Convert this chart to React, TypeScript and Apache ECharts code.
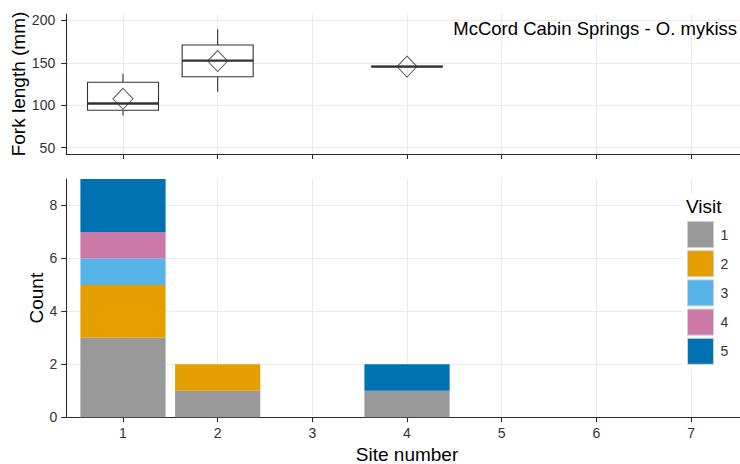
import React, { useEffect, useRef } from "react";
import * as echarts from "echarts";

// Sites along the shared x axis
const sites = [1, 2, 3, 4, 5, 6, 7];
const siteLabels = ["1", "2", "3", "4", "5", "6", "7"];

// Fish counts per site, one array per visit
const visitNames = ["1", "2", "3", "4", "5"];
const visitColors = ["#999999", "#E69F00", "#56B4E9", "#CC79A7", "#0072B2"];
const countVisit1 = [3, 1, 0, 1, 0, 0, 0];
const countVisit2 = [2, 1, 0, 0, 0, 0, 0];
const countVisit3 = [1, 0, 0, 0, 0, 0, 0];
const countVisit4 = [1, 0, 0, 0, 0, 0, 0];
const countVisit5 = [2, 0, 0, 1, 0, 0, 0];
const countsByVisit = [countVisit1, countVisit2, countVisit3, countVisit4, countVisit5];

// Fork length summaries per site (mm)
const boxSites = [1, 2, 4];
const boxLow = [88, 116, 145];
const boxQ1 = [94, 133.5, 145.25];
const boxMedian = [102, 152.5, 145.5];
const boxQ3 = [127, 171, 145.75];
const boxHigh = [137, 189.5, 146];
const meanLength = [107.5, 152, 145.5];

// Tick labels
const lengthTicks = [50, 100, 150, 200];
const countTicks = [0, 2, 4, 6, 8];

const FONT = '"Liberation Sans", Arial, Helvetica, sans-serif';
const W = 740;
const H = 464;
const X_MIN = 0.4;
const X_MAX = 7.6;
const UNIT = 94.67; // pixels per site step
const GRID_LEFT = 66.2;
const GRID_WIDTH = (X_MAX - X_MIN) * UNIT;
// Bars sit on a category band grid whose bands line up with the value axis
const BAND_LEFT = GRID_LEFT + (sites[0] - X_MIN - 0.5) * UNIT;
const BAND_WIDTH = sites.length * UNIT;

const BOTTOM_TOP = 179;
const BOTTOM_BOTTOM = H - 417.3;

const AXIS_LINE = { color: "#2b2b2b", width: 1.1 };
const GRID_LINE = { color: "#ebebeb", width: 1 };

function xAxisFor(gridIndex: number, withLabels: boolean) {
  return {
    type: "value",
    gridIndex,
    min: X_MIN,
    max: X_MAX,
    axisLine: { show: true, onZero: false, lineStyle: AXIS_LINE },
    axisTick: { show: true, length: 5, customValues: sites, lineStyle: AXIS_LINE },
    axisLabel: {
      show: withLabels,
      customValues: sites,
      margin: 9,
      fontSize: 14,
      color: "#333",
      fontFamily: FONT,
    },
    splitLine: { show: true, lineStyle: GRID_LINE },
    ...(withLabels
      ? {
          name: "Site number",
          nameLocation: "middle",
          nameGap: 26,
          nameTextStyle: { fontSize: 19, color: "#000", fontFamily: FONT },
        }
      : {}),
  };
}

function buildOption() {
  const boxData = boxSites.map((s, i) => [s, boxLow[i], boxQ1[i], boxMedian[i], boxQ3[i], boxHigh[i]]);
  const meanData = boxSites.map((s, i) => [s, meanLength[i]]);

  const barSeries = visitNames.map((name, v) => ({
    type: "bar",
    name,
    xAxisIndex: 2,
    yAxisIndex: 2,
    stack: "count",
    barWidth: "90%",
    itemStyle: { color: visitColors[v] },
    data: countsByVisit[v],
  }));

  return {
    animation: false,
    backgroundColor: "#ffffff",
    textStyle: { fontFamily: FONT },
    title: [
      {
        text: "McCord Cabin Springs - O. mykiss",
        right: 3,
        top: 19,
        padding: 0,
        textStyle: { fontSize: 18.5, fontWeight: "normal", color: "#000", fontFamily: FONT },
      },
      {
        text: "Visit",
        left: 686,
        top: 197,
        padding: 0,
        textStyle: { fontSize: 19, fontWeight: "normal", color: "#000", fontFamily: FONT },
      },
    ],
    legend: {
      orient: "vertical",
      left: 682,
      top: 194,
      padding: [27, 30, 5, 5],
      backgroundColor: "#ffffff",
      itemWidth: 26,
      itemHeight: 26,
      itemGap: 2.2,
      icon: "rect",
      data: visitNames,
      itemStyle: { borderColor: "#cfcfcf", borderWidth: 1 },
      textStyle: { fontSize: 14, color: "#333", fontFamily: FONT, padding: [0, 0, 0, 2] },
    },
    grid: [
      { left: GRID_LEFT, width: GRID_WIDTH, top: 14, height: 140, outerBoundsMode: "none" },
      { left: GRID_LEFT, width: GRID_WIDTH, top: BOTTOM_TOP, bottom: BOTTOM_BOTTOM, outerBoundsMode: "none" },
      { left: BAND_LEFT, width: BAND_WIDTH, top: BOTTOM_TOP, bottom: BOTTOM_BOTTOM, outerBoundsMode: "none" },
    ],
    xAxis: [
      xAxisFor(0, false),
      xAxisFor(1, true),
      {
        type: "category",
        gridIndex: 2,
        data: siteLabels,
        show: false,
      },
    ],
    yAxis: [
      {
        type: "value",
        gridIndex: 0,
        min: 42.5,
        max: 207.5,
        axisLine: { show: true, lineStyle: AXIS_LINE },
        axisTick: { show: true, length: 5, customValues: lengthTicks, lineStyle: AXIS_LINE },
        axisLabel: {
          customValues: lengthTicks,
          margin: 11,
          fontSize: 14,
          color: "#333",
          fontFamily: FONT,
        },
        splitLine: { show: true, lineStyle: GRID_LINE },
        name: "Fork length (mm)",
        nameLocation: "middle",
        nameGap: 38,
        nameMoveOverlap: false,
        nameTextStyle: { fontSize: 19, color: "#000", fontFamily: FONT },
      },
      {
        type: "value",
        gridIndex: 1,
        min: 0,
        max: 9,
        axisLine: { show: true, lineStyle: AXIS_LINE },
        axisTick: { show: true, length: 5, customValues: countTicks, lineStyle: AXIS_LINE },
        axisLabel: {
          customValues: countTicks,
          margin: 9,
          fontSize: 14,
          color: "#333",
          fontFamily: FONT,
        },
        splitLine: { show: true, lineStyle: GRID_LINE },
        name: "Count",
        nameLocation: "middle",
        nameGap: 20,
        nameMoveOverlap: false,
        nameTextStyle: { fontSize: 19, color: "#000", fontFamily: FONT },
      },
      {
        type: "value",
        gridIndex: 2,
        min: 0,
        max: 9,
        show: false,
      },
    ],
    series: [
      {
        type: "custom",
        name: "Fork length",
        xAxisIndex: 0,
        yAxisIndex: 0,
        encode: { x: 0, y: [1, 2, 3, 4, 5] },
        data: boxData,
        renderItem: (_params: any, api: any) => {
          const x = api.value(0);
          const lo = api.coord([x, api.value(1)]);
          const q1 = api.coord([x, api.value(2)]);
          const med = api.coord([x, api.value(3)]);
          const q3 = api.coord([x, api.value(4)]);
          const hi = api.coord([x, api.value(5)]);
          const half = api.size([0.75, 0])[0] / 2;
          const stroke = { stroke: "#333", lineWidth: 1.1, fill: "transparent" };
          return {
            type: "group",
            children: [
              { type: "line", shape: { x1: hi[0], y1: hi[1], x2: q3[0], y2: q3[1] }, style: stroke },
              { type: "line", shape: { x1: q1[0], y1: q1[1], x2: lo[0], y2: lo[1] }, style: stroke },
              {
                type: "rect",
                shape: { x: q3[0] - half, y: q3[1], width: half * 2, height: q1[1] - q3[1] },
                style: { stroke: "#333", lineWidth: 1.1, fill: "#ffffff" },
              },
              {
                type: "line",
                shape: { x1: med[0] - half, y1: med[1], x2: med[0] + half, y2: med[1] },
                style: { stroke: "#333", lineWidth: 2.4 },
              },
            ],
          };
        },
      },
      {
        type: "scatter",
        name: "Mean",
        xAxisIndex: 0,
        yAxisIndex: 0,
        symbol: "diamond",
        symbolSize: [20, 21],
        z: 5,
        itemStyle: { color: "transparent", borderColor: "#333", borderWidth: 1 },
        data: meanData,
      },
      ...barSeries,
    ],
  };
}

export default function App() {
  const ref = useRef<HTMLDivElement>(null);

  useEffect(() => {
    if (!ref.current) return;
    const chart = echarts.init(ref.current, undefined, { renderer: "svg" });
    chart.setOption(buildOption() as any);
    return () => chart.dispose();
  }, []);

  return (
    <div
      ref={ref}
      style={{ position: "fixed", left: 0, top: 0, width: W, height: H, background: "#fff" }}
    />
  );
}
